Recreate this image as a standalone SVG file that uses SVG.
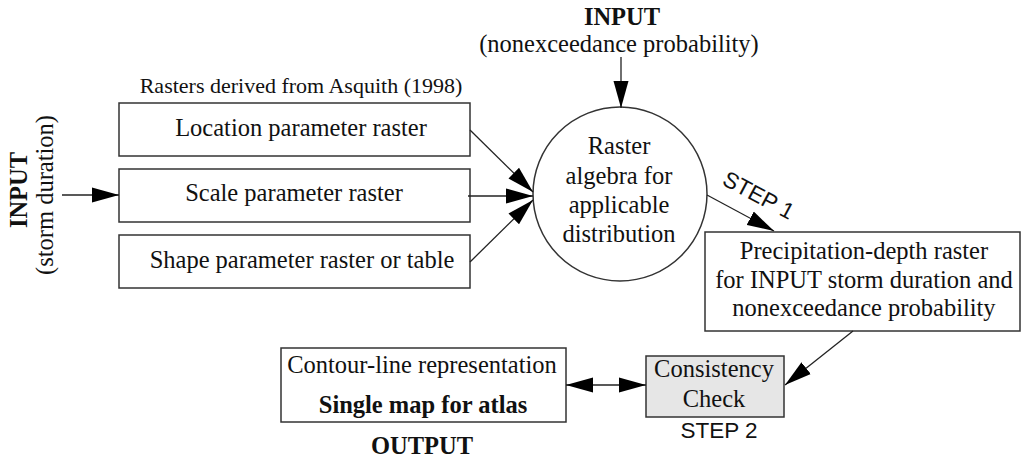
<svg xmlns="http://www.w3.org/2000/svg" width="1021" height="459" viewBox="0 0 1021 459">
<style>
.t{font-family:"Liberation Serif",serif;font-size:24.5px;fill:#111;text-anchor:middle}
.b{font-weight:bold}
.s{font-family:"Liberation Sans",sans-serif;font-size:22.5px;fill:#111;text-anchor:middle}
.box{fill:#fff;stroke:#333;stroke-width:1.5}
.ln{stroke:#222;stroke-width:1.3;fill:none}
</style>
<defs>
<marker id="ah" markerUnits="userSpaceOnUse" markerWidth="28" markerHeight="16" refX="27" refY="7.5" orient="auto-start-reverse" viewBox="0 0 28 15">
<path d="M0,0 L27,7.5 L0,15 z" fill="#000"/>
</marker>
</defs>
<rect width="1021" height="459" fill="#fff"/>

<g id="input-prob">
<text class="t b" x="622" y="25">INPUT</text>
<text class="t" x="619" y="52">(nonexceedance probability)</text>
</g>
<g id="input-duration">
<text class="t b" transform="translate(27,190) rotate(-90)">INPUT</text>
<text class="t" transform="translate(53,195) rotate(-90)">(storm duration)</text>
</g>
<g id="rasters-label">
<text class="t" style="font-size:22px" x="301" y="93">Rasters derived from Asquith (1998)</text>
</g>
<g id="location">
<rect class="box" x="119" y="103" width="351" height="53"/>
<text class="t" x="301" y="136">Location parameter raster</text>
</g>
<g id="scale">
<rect class="box" x="119" y="169" width="351" height="53"/>
<text class="t" x="294" y="201">Scale parameter raster</text>
</g>
<g id="shape">
<rect class="box" x="119" y="235" width="351" height="53"/>
<text class="t" x="302" y="268">Shape parameter raster or table</text>
</g>
<g id="raster-algebra">
<circle cx="620" cy="194" r="87" fill="#fff" stroke="#333" stroke-width="1.5"/>
<text class="t" x="619" y="154">Raster</text>
<text class="t" x="619" y="184">algebra for</text>
<text class="t" x="619" y="213">applicable</text>
<text class="t" x="619" y="242">distribution</text>
</g>
<g id="precip">
<rect class="box" x="705" y="232" width="315" height="99"/>
<text class="t" x="864" y="259">Precipitation-depth raster</text>
<text class="t" x="864" y="288">for INPUT storm duration and</text>
<text class="t" x="864" y="316">nonexceedance probability</text>
</g>
<g id="consistency">
<rect x="646" y="356" width="138" height="61" fill="#e6e6e6" stroke="#333" stroke-width="1.5"/>
<text class="t" x="714" y="377">Consistency</text>
<text class="t" x="714" y="407">Check</text>
<text class="s" x="719" y="438">STEP 2</text>
</g>
<g id="output">
<rect class="box" x="281" y="348" width="285" height="74"/>
<text class="t" x="422" y="373">Contour-line representation</text>
<text class="t b" x="423" y="413">Single map for atlas</text>
<text class="t b" x="422" y="454">OUTPUT</text>
</g>
<g id="connectors">
<line class="ln" x1="62" y1="195" x2="119" y2="195" marker-end="url(#ah)"/>
<line class="ln" x1="621" y1="57" x2="621" y2="108" marker-end="url(#ah)"/>
<line class="ln" x1="470" y1="130" x2="533" y2="192" marker-end="url(#ah)"/>
<line class="ln" x1="468" y1="196" x2="533" y2="196" marker-end="url(#ah)"/>
<line class="ln" x1="470" y1="262" x2="533" y2="200" marker-end="url(#ah)"/>
<line class="ln" x1="707" y1="195" x2="774" y2="231" marker-end="url(#ah)"/>
<text class="s" transform="translate(755,202) rotate(28)">STEP 1</text>
<line class="ln" x1="853" y1="331" x2="785" y2="385" marker-end="url(#ah)"/>
<line class="ln" x1="566" y1="385" x2="646" y2="385" marker-start="url(#ah)" marker-end="url(#ah)"/>
</g>
</svg>
